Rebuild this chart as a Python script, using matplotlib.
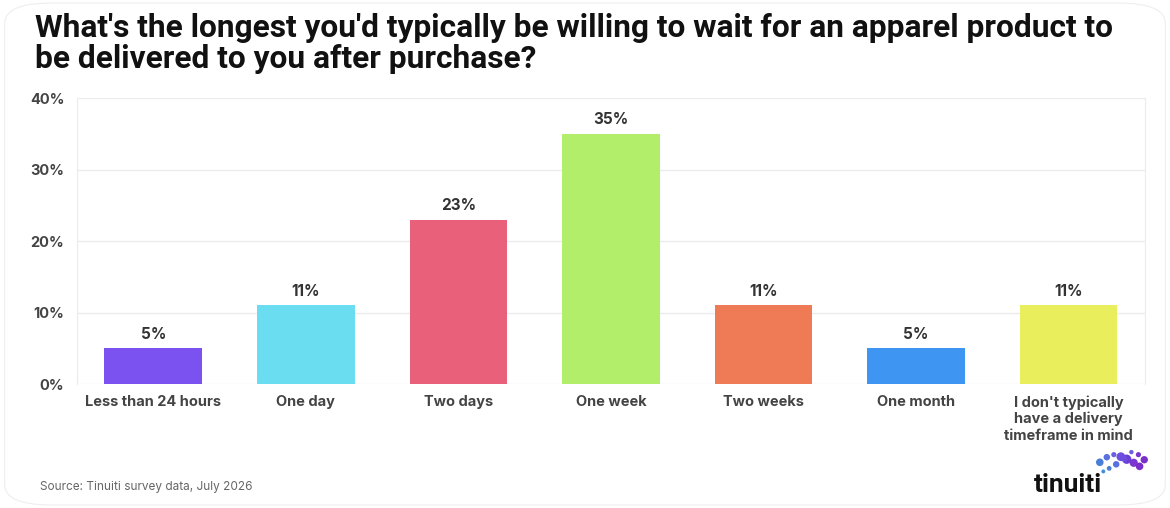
import matplotlib.pyplot as plt
from matplotlib.patches import FancyBboxPatch

categories = ["Less than 24 hours", "One day", "Two days", "One week",
              "Two weeks", "One month",
              "I don't typically\nhave a delivery\ntimeframe in mind"]
values = [5, 11, 23, 35, 11, 5, 11]
colors = ["#7B52F0", "#6ADDF0", "#E8607A", "#B3EE6A", "#EE7B55", "#3F95F2", "#E9EE5C"]
yticks = [0, 10, 20, 30, 40]

plt.rcParams['font.family'] = ['Inter', 'DejaVu Sans']

fig = plt.figure(figsize=(11.7, 5.08), dpi=100)
fig.patch.set_facecolor("white")

# card outline
card = FancyBboxPatch((0.004, 0.006), 0.992, 0.988, boxstyle="round,pad=0,rounding_size=0.04",
                      transform=fig.transFigure, fc="white", ec="#eeeeee", lw=0.8, zorder=-1)
fig.patches.append(card)

ax = fig.add_axes([0.0658, 0.244, 0.9128, 0.563])
x = range(len(categories))
ax.bar(x, values, width=0.64, color=colors, zorder=3)
for xi, v in zip(x, values):
    ax.text(xi, v + 0.9, f"{v}%", ha="center", va="bottom", fontsize=11,
            fontweight="bold", color="#333333")

ax.set_xlim(-0.5, 6.5)
ax.set_ylim(0, 40)
ax.set_yticks(yticks)
ax.set_yticklabels([f"{t}%" for t in yticks], fontsize=10.5, fontweight="bold", color="#444444")
ax.set_xticks(list(x))
ax.set_xticklabels(categories, fontsize=10.5, fontweight="bold", color="#444444", linespacing=1.2)
ax.tick_params(length=0, pad=8)
ax.tick_params(axis="y", pad=9)
ax.grid(axis="y", color="#ececec", lw=1, zorder=0)
for s in ["top", "bottom"]:
    ax.spines[s].set_visible(False)
for s in ["left", "right"]:
    ax.spines[s].set_color("#ececec")

fig.text(0.03, 0.927, "What's the longest you'd typically be willing to wait for an apparel product to",
         fontsize=22.8, fontweight="bold", color="#111111", va="baseline", ha="left", family=["Roboto", "DejaVu Sans"])
fig.text(0.03, 0.866, "be delivered to you after purchase?",
         fontsize=22.8, fontweight="bold", color="#111111", va="baseline", ha="left", family=["Roboto", "DejaVu Sans"])

fig.text(0.034, 0.042, "Source: Tinuiti survey data, July 2026", fontsize=8.5, color="#666666", va="center")

# logo
fig.text(0.884, 0.045, "tinuiti", fontsize=19, fontweight="bold", color="#111111", va="center", ha="left",
         family=["Roboto", "DejaVu Sans"])
lx = [0.940, 0.946, 0.952, 0.958, 0.963, 0.969, 0.974, 0.978, 0.973, 0.967, 0.961, 0.954, 0.948, 0.943]
ly = [0.090, 0.100, 0.105, 0.101, 0.096, 0.089, 0.082, 0.095, 0.105, 0.110, 0.097, 0.086, 0.078, 0.072]
lc = ["#4a7fd8", "#5a6fe0", "#6a5ee2", "#6d4fe0", "#6a3fd8", "#7a36d0", "#7b2fc8", "#7b2fc8",
      "#7a36d0", "#6a5ee2", "#6d4fe0", "#5a6fe0", "#4a7fd8", "#3f8fdc"]
ls = [30, 22, 14, 40, 45, 35, 30, 28, 14, 10, 18, 22, 12, 8]
sc_ax = fig.add_axes([0, 0, 1, 1], facecolor="none")
sc_ax.set_xlim(0, 1)
sc_ax.set_ylim(0, 1)
sc_ax.axis("off")
sc_ax.scatter(lx, ly, s=ls, c=lc, marker="o", lw=0)

fig.savefig("out.png", dpi=100, facecolor="white")
